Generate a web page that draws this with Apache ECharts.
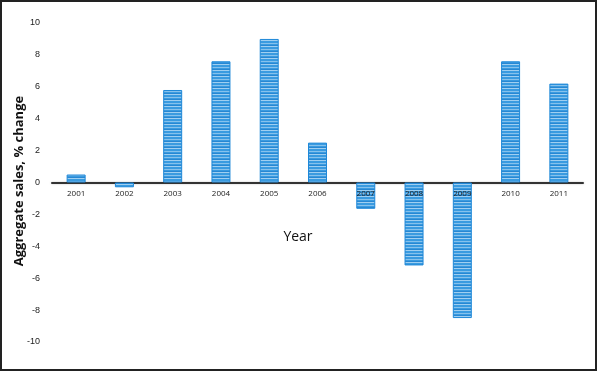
<!DOCTYPE html>
<html>
<head>
<meta charset="utf-8">
<script src="https://cdn.jsdelivr.net/npm/echarts@6/dist/echarts.min.js"></script>
<style>html,body{margin:0;padding:0;background:#fff}#c{width:598px;height:372px}</style>
</head>
<body>
<div id="c"></div>
<script>
var years = ['2001','2002','2003','2004','2005','2006','2007','2008','2009','2010','2011'];
var salesChange = [0.5, -0.3, 5.8, 7.6, 9.0, 2.5, -1.65, -5.2, -8.5, 7.6, 6.2];
var yTicks = [-10, -8, -6, -4, -2, 0, 2, 4, 6, 8, 10];

// striped fill pattern
var pc = document.createElement('canvas');
pc.width = 4; pc.height = 6;
var g = pc.getContext('2d');
g.fillStyle = '#3a9be0'; g.fillRect(0,0,4,6);
g.fillStyle = '#86c1ec'; g.fillRect(0,1,4,1);
g.fillStyle = '#2887d2'; g.fillRect(0,3,4,1);
g.fillStyle = '#9fcff1'; g.fillRect(0,4,4,1);

var chart = echarts.init(document.getElementById('c'), null, {renderer:'canvas'});
var baseGraphic = [{
    type: 'rect', shape: {x: 1, y: 1, width: 595, height: 369},
    style: {fill: 'none', stroke: '#222', lineWidth: 2}, silent: true, z: 100
  }, {
    type: 'text', x: 298, y: 237,
    style: {text: 'Year', fill: '#111', font: '500 14px "Open Sans"', align: 'center', verticalAlign: 'middle'},
    silent: true
  }, {
    type: 'text', x: 19, y: 181, rotation: Math.PI / 2,
    style: {text: 'Aggregate sales, % change', fill: '#111', font: 'bold 13px "Open Sans"', align: 'center', verticalAlign: 'middle'},
    silent: true
  }];
chart.setOption({
  animation: false,
  backgroundColor: '#fff',
  grid: {left: 52, right: 15, top: 23, bottom: 30, containLabel: false, outerBoundsMode: 'none'},
  graphic: baseGraphic,
  xAxis: {
    type: 'category', data: years,
    axisLine: {onZero: true, lineStyle: {color: '#333', width: 2, shadowColor: 'rgba(0,0,0,0.25)', shadowBlur: 2}},
    axisTick: {show: false},
    axisLabel: {show: false}
  },
  yAxis: {
    type: 'value', min: -10, max: 10, interval: 2,
    axisLine: {show: false}, axisTick: {show: false},
    splitLine: {show: false},
    axisLabel: {color: '#222', fontSize: 9, margin: 12, fontFamily: 'Liberation Sans',
      formatter: function(v){ return yTicks.indexOf(v) >= 0 ? String(v) : ''; }}
  },
  series: [{
    type: 'bar', data: salesChange, barWidth: 19,
    itemStyle: {color: {image: pc, repeat: 'repeat'}, borderColor: '#1f88d8', borderWidth: 1}
  }]
});
// category labels just under the zero line, positioned through the chart's own scales
var labelGraphics = years.map(function(y){
  var p = chart.convertToPixel({gridIndex: 0}, [y, 0]);
  return {type: 'text', x: p[0], y: p[1] + 7, z: 50, silent: true,
    style: {text: y, fill: '#222', font: '8px "Open Sans"', align: 'center', verticalAlign: 'top'}};
});
chart.setOption({graphic: baseGraphic.concat(labelGraphics)});
</script>
</body>
</html>
